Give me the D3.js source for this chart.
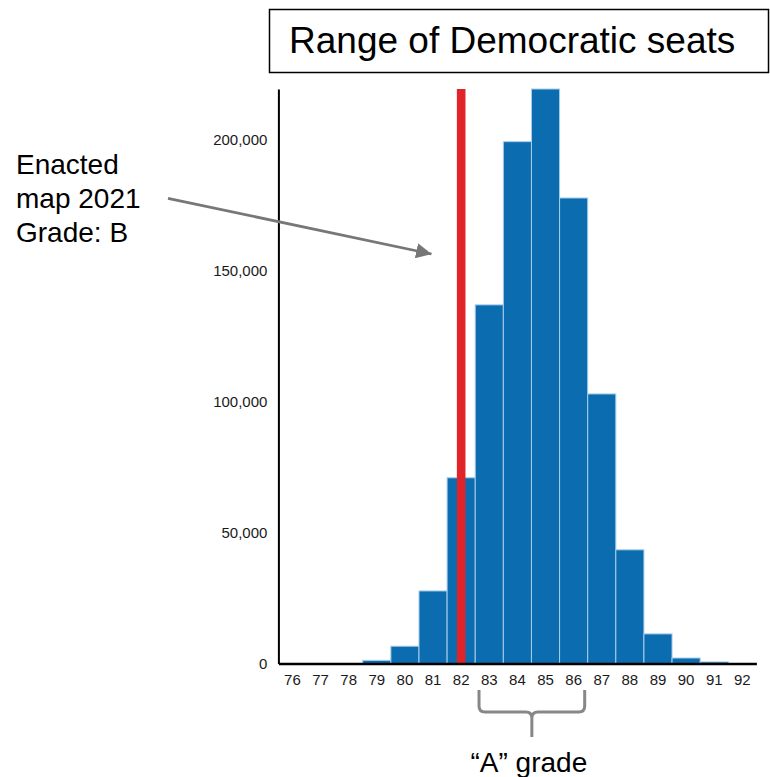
<!DOCTYPE html>
<html>
<head>
<meta charset="utf-8">
<script src="https://cdn.jsdelivr.net/npm/d3@7"></script>
<style>
  html, body { margin: 0; padding: 0; background: #fff; }
  svg { display: block; font-family: "Liberation Sans", Arial, sans-serif; }
</style>
</head>
<body>
<svg id="chart" width="770" height="777"></svg>
<script>
// ---- Data ----
const seats = ["76","77","78","79","80","81","82","83","84","85","86","87","88","89","90","91","92"];
const counts = [0, 0, 0, 1200, 6600, 27700, 70900, 136900, 199200, 219300, 177700, 102900, 43400, 11300, 2100, 600, 0];
const yTicks = [0, 50000, 100000, 150000, 200000];
const enactedSeat = "82";
const aGradeSeats = ["83", "86"];
const titleText = "Range of Democratic seats";
const noteLines = ["Enacted", "map 2021", "Grade: B"];
const bracketLabel = "\u201CA\u201D grade";

const data = seats.map((s, i) => ({ seat: s, count: counts[i] }));

// ---- Layout ----
const svg = d3.select("#chart");
const x0 = 278.4, x1 = 756.4, yBase = 663.5, yTop = 89;

const x = d3.scaleBand().domain(seats).range([x0, x1]).padding(0);
const y = d3.scaleLinear().domain([0, d3.max(counts)]).range([yBase, yTop]);
const bw = x.bandwidth();

// Bars
svg.append("g").selectAll("rect").data(data).join("rect")
  .attr("x", d => x(d.seat))
  .attr("y", d => y(d.count))
  .attr("width", bw)
  .attr("height", d => yBase - y(d.count))
  .attr("fill", "#0b6db0")
  .attr("stroke", d => d.count > 0 ? "#a9cdea" : "none")
  .attr("stroke-width", 1);

// Red enacted line
const rx = x(enactedSeat) + bw / 2;
svg.append("rect")
  .attr("x", rx - 4.3)
  .attr("y", y.range()[1])
  .attr("width", 8.6)
  .attr("height", y.range()[0] - y.range()[1])
  .attr("fill", "#e0242a");

// Y axis
const yAxis = d3.axisLeft(y).tickValues(yTicks).tickFormat(d3.format(",")).tickSize(0).tickSizeOuter(0).tickPadding(11);
const gy = svg.append("g").attr("transform", `translate(${x0},0)`).call(yAxis);
gy.attr("font-size", null).attr("font-family", null);
gy.select(".domain").attr("stroke", "#000").attr("stroke-width", 2);
gy.selectAll(".tick text").attr("font-size", 15).attr("fill", "#1a1a1a");

// X axis
const xAxis = d3.axisBottom(x).tickSize(0).tickSizeOuter(0).tickPadding(10.5);
const gx = svg.append("g").attr("transform", `translate(0,${yBase})`).call(xAxis);
gx.attr("font-size", null).attr("font-family", null);
gx.select(".domain").attr("stroke", "#000").attr("stroke-width", 2.6);
gx.selectAll(".tick text").attr("font-size", 15).attr("fill", "#1a1a1a");

// Title box
svg.append("rect")
  .attr("x", 269.5).attr("y", 9.5).attr("width", 499).attr("height", 63)
  .attr("fill", "#fff").attr("stroke", "#000").attr("stroke-width", 1.5);
svg.append("text")
  .attr("x", 289).attr("y", 53.3)
  .attr("font-size", 37).attr("fill", "#000")
  .text(titleText);

// Annotation text
const note = svg.append("text").attr("font-size", 28).attr("fill", "#000");
noteLines.forEach((t, i) => {
  note.append("tspan").attr("x", 16).attr("y", 173.5 + i * 34.2).text(t);
});

// Arrow
const defs = svg.append("defs");
defs.append("marker")
  .attr("id", "arrowhead")
  .attr("viewBox", "0 0 10 10")
  .attr("refX", 10).attr("refY", 5)
  .attr("markerWidth", 5.5).attr("markerHeight", 5.5)
  .attr("markerUnits", "strokeWidth")
  .attr("orient", "auto")
  .append("path").attr("d", "M0,0 L10,5 L0,10 Z").attr("fill", "#777");
svg.append("line")
  .attr("x1", 168).attr("y1", 198.3)
  .attr("x2", 431.5).attr("y2", 254)
  .attr("stroke", "#777").attr("stroke-width", 2.8)
  .attr("marker-end", "url(#arrowhead)");

// Bracket under A-grade range
const bxL = x(aGradeSeats[0]) + 3.8;
const bxR = x(aGradeSeats[1]) + bw - 3;
const bTop = 690, bH = 712, r = 6, bMid = (bxL + bxR) / 2, bStem = 737;
const bp = d3.path();
bp.moveTo(bxL, bTop);
bp.lineTo(bxL, bH - r);
bp.quadraticCurveTo(bxL, bH, bxL + r, bH);
bp.lineTo(bMid - r, bH);
bp.quadraticCurveTo(bMid, bH, bMid, bH + r);
bp.lineTo(bMid, bStem);
bp.moveTo(bMid, bH + r);
bp.quadraticCurveTo(bMid, bH, bMid + r, bH);
bp.lineTo(bxR - r, bH);
bp.quadraticCurveTo(bxR, bH, bxR, bH - r);
bp.lineTo(bxR, bTop);
svg.append("path").attr("d", bp.toString())
  .attr("fill", "none").attr("stroke", "#878787").attr("stroke-width", 3)
  .attr("stroke-linecap", "butt");

svg.append("text")
  .attr("x", bMid - 3).attr("y", 771.5)
  .attr("text-anchor", "middle")
  .attr("font-size", 28).attr("fill", "#000")
  .text(bracketLabel);
</script>
</body>
</html>
